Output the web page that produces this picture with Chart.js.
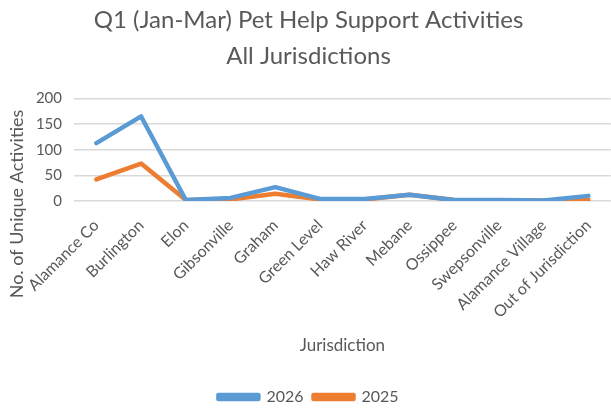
<!DOCTYPE html>
<html>
<head>
<meta charset="utf-8">
<script src="https://cdn.jsdelivr.net/npm/chart.js@4.4.1/dist/chart.umd.min.js"></script>
<style>
html,body{margin:0;padding:0;background:#fff;overflow:hidden;}
#wrap{width:611px;height:408px;overflow:hidden;position:relative;}
#box{width:617px;height:408px;position:absolute;left:0;top:0;}
</style>
</head>
<body>
<div id="wrap"><div id="box"><canvas id="c"></canvas></div></div>
<script>
const titleLines = ["Q1 (Jan-Mar) Pet Help Support Activities", "All Jurisdictions"];
const categories = ["Alamance Co", "Burlington", "Elon", "Gibsonville", "Graham", "Green Level", "Haw River", "Mebane", "Ossippee", "Swepsonville", "Alamance Village", "Out of Jurisdiction"];
const series2026 = [113, 165, 2, 6, 27, 4, 4, 12, 2, 2, 1, 10];
const series2025 = [42, 73, 2, 3, 14, 3, 3, 12, 2, 1, 1, 2];
const yTicks = [0, 50, 100, 150, 200];
const xTitle = "Jurisdiction";
const yTitle = "No. of Unique Activities";

const grey = '#595959';
const FONT = 'Lato, "Open Sans", sans-serif';

const yTitlePlugin = {
  id: 'yTitle',
  afterDraw(chart) {
    const ctx = chart.ctx;
    ctx.save();
    ctx.translate(17, 204);
    ctx.rotate(-Math.PI / 2);
    ctx.fillStyle = grey;
    ctx.font = '18px ' + FONT;
    ctx.textAlign = 'center';
    ctx.textBaseline = 'middle';
    ctx.fillText(yTitle, 0, 0);
    ctx.restore();
  }
};

new Chart(document.getElementById('c'), {
  type: 'line',
  data: {
    labels: categories,
    datasets: [
      { label: '2026', data: series2026, borderColor: '#5B9BD5', backgroundColor: '#5B9BD5', borderWidth: 4.5, pointRadius: 0, tension: 0, borderJoinStyle: 'round', borderCapStyle: 'round' },
      { label: '2025', data: series2025, borderColor: '#ED7D31', backgroundColor: '#ED7D31', borderWidth: 4.5, pointRadius: 0, tension: 0, borderJoinStyle: 'round', borderCapStyle: 'round' }
    ]
  },
  options: {
    responsive: true,
    maintainAspectRatio: false,
    animation: false,
    layout: { padding: { left: 0, right: 0, top: 0, bottom: -7 } },
    plugins: {
      title: {
        display: true,
        text: titleLines,
        color: grey,
        font: { family: FONT, size: 24, weight: 'normal', lineHeight: 1.5 },
        padding: { top: 2, bottom: 24.5 }
      },
      legend: {
        position: 'bottom',
        labels: {
          color: grey,
          font: { family: FONT, size: 16 },
          boxWidth: 40,
          boxHeight: 4,
          padding: 10
        }
      },
      tooltip: { enabled: false }
    },
    scales: {
      x: {
        offset: true,
        afterFit(s) { s.height = 178; },
        grid: { display: false, drawTicks: false },
        border: { display: false },
        ticks: { color: grey, font: { family: FONT, size: 16 }, minRotation: 45, maxRotation: 45, padding: 15, autoSkip: false },
        title: { display: true, text: xTitle, color: grey, font: { family: FONT, size: 17 }, padding: { top: 4, bottom: 23 } }
      },
      y: {
        min: 0, max: 200,
        afterFit(s) { s.width = 74; },
        afterBuildTicks(s) { s.ticks = yTicks.map(v => ({ value: v })); },
        grid: { color: '#D9D9D9', lineWidth: 1.5, drawTicks: false },
        border: { display: false },
        ticks: { color: grey, font: { family: FONT, size: 15 }, padding: 12 }
      }
    }
  },
  plugins: [yTitlePlugin]
});
</script>
</body>
</html>
